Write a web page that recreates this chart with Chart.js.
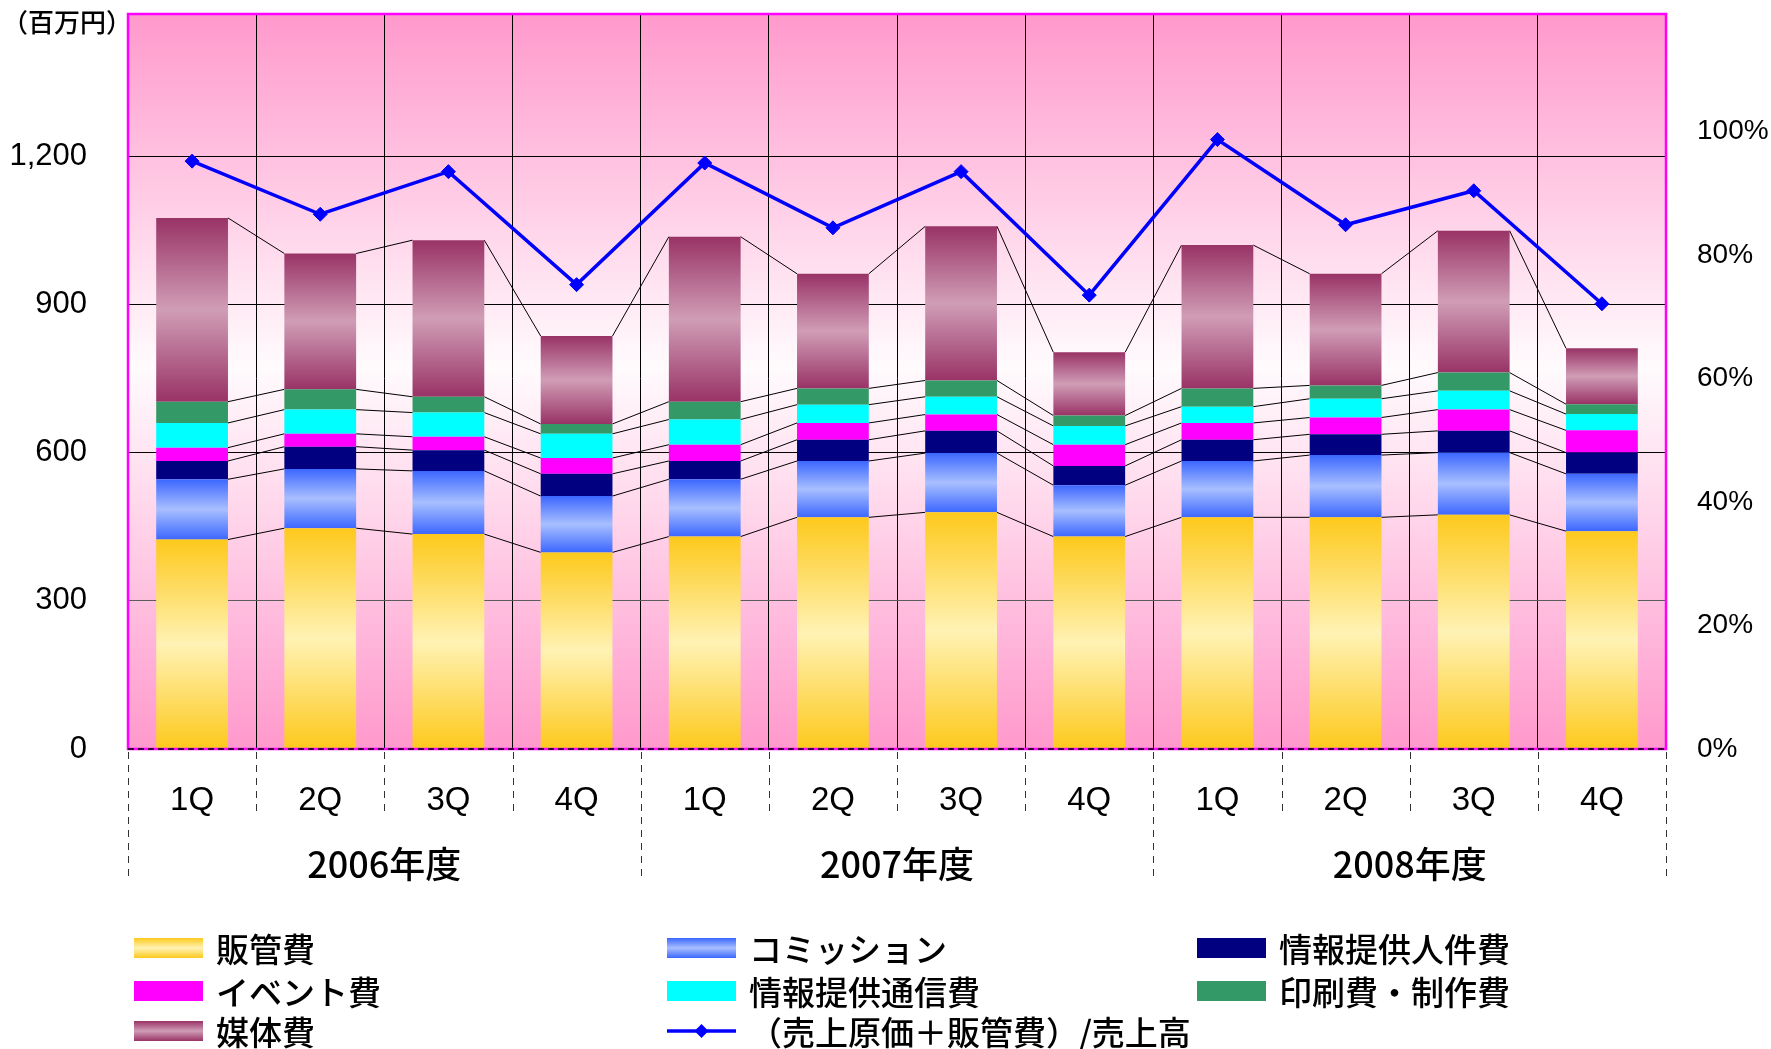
<!DOCTYPE html>
<html>
<head>
<meta charset="utf-8">
<script src="https://cdn.jsdelivr.net/npm/chart.js@4.4.1/dist/chart.umd.min.js"></script>
<style>
  html, body { margin: 0; padding: 0; background: #fff; }
</style>
</head>
<body>
<canvas id="costChart" width="1771" height="1049"></canvas>
<script>
// categories
const quarterLabels = ['1Q', '2Q', '3Q', '4Q', '1Q', '2Q', '3Q', '4Q', '1Q', '2Q', '3Q', '4Q'];
const yearLabels = ['2006年度', '2007年度', '2008年度'];

// cost items (百万円), stacked from the bottom
const sga        = [424, 447, 435, 398, 430, 469, 479, 430, 469, 469, 474, 441];
const commission = [122, 120, 128, 114, 116, 114, 120, 104, 114, 126, 126, 116];
const infoStaff  = [37, 45, 42, 45, 37, 43, 45, 39, 43, 42, 44, 43];
const eventCost  = [27, 26, 27, 32, 33, 34, 33, 43, 34, 34, 43, 45];
const infoComm   = [50, 49, 49, 49, 51, 37, 36, 38, 33, 38, 38, 33];
const printing   = [43, 41, 32, 20, 36, 33, 33, 21, 37, 27, 37, 20];
const media      = [372, 275, 317, 178, 334, 232, 312, 128, 290, 226, 287, 113];

// (売上原価＋販管費)/売上高, percent
const costRatio = [95.2, 86.6, 93.5, 75.2, 94.9, 84.4, 93.5, 73.5, 98.7, 84.9, 90.4, 72.1];

// axes
const yMax = 1500, yStep = 300;
const ratioMax = 120, ratioStep = 20;

const tickFamily = "'Liberation Sans Narrow', 'Liberation Sans', sans-serif";
const cjkFont = "'Noto Sans CJK JP', 'Noto Sans', sans-serif";

// edge / middle colours of the banded bars, plain colour otherwise
const seriesColors = [
    ['#fdc91c', '#fff2b4'],
    ['#3c67ff', '#a8bfff'],
    '#000080',
    '#ff00ff',
    '#00ffff',
    '#339966',
    ['#993366', '#d09db6']
];

// the pink frame sits a little below the top of the value range
const frameInset = 6;

const bandFill = (colors) => {
    if (typeof colors === 'string') return colors;
    return (c) => {
        if (c.type !== 'data') return colors[0];
        const chart = c.chart;
        const y = chart.scales.y;
        const ds = chart.data.datasets;
        let base = 0;
        for (let k = 0; k < c.datasetIndex; k++) base += ds[k].data[c.dataIndex];
        const top = base + ds[c.datasetIndex].data[c.dataIndex];
        const y0 = y.getPixelForValue(top), y1 = y.getPixelForValue(base);
        if (!isFinite(y0) || !isFinite(y1) || y0 === y1) return colors[0];
        const g = chart.ctx.createLinearGradient(0, y0, 0, y1);
        g.addColorStop(0, colors[0]);
        g.addColorStop(0.5, colors[1]);
        g.addColorStop(1, colors[0]);
        return g;
    };
};

const barSet = (label, data, i) => ({
    type: 'bar',
    label: label,
    data: data,
    backgroundColor: bandFill(seriesColors[i]),
    borderWidth: 0,
    barPercentage: 0.56,
    categoryPercentage: 1,
    order: 1
});

// plot background, pink - white - pink
const plotBackground = {
    id: 'plotBackground',
    beforeDraw(chart) {
        const { ctx, chartArea: a } = chart;
        const top = a.top + frameInset;
        const g = ctx.createLinearGradient(0, top, 0, a.bottom);
        g.addColorStop(0, '#ff99cc');
        g.addColorStop(0.48, '#fffbfd');
        g.addColorStop(1, '#ff99cc');
        ctx.save();
        ctx.fillStyle = g;
        ctx.fillRect(a.left, top, a.right - a.left, a.bottom - top);
        ctx.restore();
    }
};

// thin lines joining the tops of each stacked segment
const seriesLines = {
    id: 'seriesLines',
    beforeDatasetsDraw(chart) {
        const { ctx, chartArea: a } = chart;
        ctx.save();
        // hide grid stubs above the frame
        ctx.fillStyle = '#fff';
        ctx.fillRect(a.left - 2, a.top - 2, a.right - a.left + 4, frameInset + 2);
        ctx.strokeStyle = '#000';
        ctx.lineWidth = 1;
        chart.data.datasets.forEach((ds, d) => {
            if (ds.type !== 'bar') return;
            const bars = chart.getDatasetMeta(d).data;
            for (let i = 0; i + 1 < bars.length; i++) {
                const p = bars[i], q = bars[i + 1];
                ctx.beginPath();
                ctx.moveTo(p.x + p.width / 2, p.y);
                ctx.lineTo(q.x - q.width / 2, q.y);
                ctx.stroke();
            }
        });
        ctx.restore();
    }
};

const plotFrame = {
    id: 'plotFrame',
    afterDatasetsDraw(chart) {
        const { ctx, chartArea: a } = chart;
        const top = a.top + frameInset;
        ctx.save();
        ctx.strokeStyle = '#ff00ff';
        ctx.lineWidth = 2.5;
        ctx.strokeRect(a.left, top, a.right - a.left, a.bottom - top);
        ctx.strokeStyle = '#000';
        ctx.lineWidth = 1.5;
        ctx.setLineDash([6, 4]);
        ctx.beginPath();
        ctx.moveTo(a.left, a.bottom);
        ctx.lineTo(a.right, a.bottom);
        ctx.stroke();
        ctx.restore();
    }
};

// dashed dividers between quarter / year labels, unit label and legend
const extras = {
    id: 'extras',
    afterDraw(chart) {
        const { ctx, chartArea: a } = chart;
        const x = chart.scales.x;
        const n = quarterLabels.length;
        const step = (x.right - x.left) / n;
        ctx.save();
        ctx.strokeStyle = '#333';
        ctx.lineWidth = 1;
        ctx.setLineDash([7, 6]);
        for (let i = 0; i <= n; i++) {
            const px = Math.round(x.left + i * step) + 0.5;
            ctx.beginPath();
            ctx.moveTo(px, a.bottom + 3);
            ctx.lineTo(px, a.bottom + (i % 4 === 0 ? 131 : 66));
            ctx.stroke();
        }
        ctx.setLineDash([]);

        ctx.fillStyle = '#000';
        ctx.textBaseline = 'middle';
        ctx.textAlign = 'left';
        ctx.font = '500 26px ' + cjkFont;
        ctx.fillText('（百万円）', 2, 22);

        // legend, three columns
        const colX = [134, 667, 1197];
        const rowY = [948, 991, 1031];
        const sw = 69, sh = 20;
        ctx.font = '500 33px ' + cjkFont;
        chart.data.datasets.forEach((ds, i) => {
            const lx = colX[i % 3], ly = rowY[Math.floor(i / 3)];
            if (ds.type === 'bar') {
                const c = seriesColors[i];
                if (typeof c === 'string') {
                    ctx.fillStyle = c;
                } else {
                    const g = ctx.createLinearGradient(0, ly - sh / 2, 0, ly + sh / 2);
                    g.addColorStop(0, c[0]);
                    g.addColorStop(0.5, c[1]);
                    g.addColorStop(1, c[0]);
                    ctx.fillStyle = g;
                }
                ctx.fillRect(lx, ly - sh / 2, sw, sh);
            } else {
                ctx.strokeStyle = ds.borderColor;
                ctx.lineWidth = 3.5;
                ctx.beginPath();
                ctx.moveTo(lx, ly);
                ctx.lineTo(lx + sw, ly);
                ctx.stroke();
                const cx = lx + sw / 2, r = 7;
                ctx.fillStyle = ds.borderColor;
                ctx.beginPath();
                ctx.moveTo(cx, ly - r);
                ctx.lineTo(cx + r, ly);
                ctx.lineTo(cx, ly + r);
                ctx.lineTo(cx - r, ly);
                ctx.closePath();
                ctx.fill();
            }
            ctx.fillStyle = '#000';
            ctx.fillText(ds.label, lx + 82, ly + 1);
        });
        ctx.restore();
    }
};

const dropTopTick = (scale) => {
    scale.ticks = scale.ticks.filter(t => t.value < scale.max);
};

new Chart(document.getElementById('costChart'), {
    data: {
        labels: quarterLabels,
        datasets: [
            barSet('販管費', sga, 0),
            barSet('コミッション', commission, 1),
            barSet('情報提供人件費', infoStaff, 2),
            barSet('イベント費', eventCost, 3),
            barSet('情報提供通信費', infoComm, 4),
            barSet('印刷費・制作費', printing, 5),
            barSet('媒体費', media, 6),
            {
                type: 'line',
                label: '（売上原価＋販管費）/売上高',
                data: costRatio,
                yAxisID: 'y1',
                borderColor: '#0000ff',
                backgroundColor: '#0000ff',
                borderWidth: 3.5,
                pointStyle: 'rectRot',
                pointRadius: 7,
                pointBackgroundColor: '#0000ff',
                pointBorderColor: '#0000ff',
                pointBorderWidth: 1,
                tension: 0,
                fill: false,
                order: 0
            }
        ]
    },
    options: {
        responsive: false,
        animation: false,
        devicePixelRatio: 1,
        layout: {
            padding: { top: 7, bottom: 155, left: 0, right: 0 }
        },
        plugins: {
            legend: { display: false },
            tooltip: { enabled: false }
        },
        scales: {
            x: {
                stacked: true,
                offset: true,
                grid: { offset: true, color: '#000', lineWidth: 1, drawTicks: false },
                border: { display: false },
                ticks: { font: { family: "'Liberation Sans', sans-serif", size: 33 }, color: '#000', padding: 32, maxRotation: 0 },
                afterFit: (s) => { s.height = 70; }
            },
            x2: {
                type: 'category',
                position: 'bottom',
                weight: 1,
                labels: yearLabels,
                offset: true,
                grid: { display: false },
                border: { display: false },
                ticks: { font: { family: cjkFont, size: 36, weight: '500' }, color: '#000', padding: 16, maxRotation: 0 },
                afterFit: (s) => { s.height = 75; }
            },
            y: {
                stacked: true,
                min: 0,
                max: yMax,
                grid: {
                    drawTicks: false,
                    lineWidth: 1,
                    color: (c) => c.tick.value === 0 ? 'rgba(0,0,0,0)' : (c.tick.value === 300 ? '#5c5c5c' : '#000')
                },
                border: { display: false },
                ticks: {
                    stepSize: yStep,
                    padding: 41,
                    font: { family: tickFamily, size: 31 },
                    color: '#000',
                    callback: (v) => v.toLocaleString('en-US')
                },
                afterBuildTicks: dropTopTick,
                afterFit: (s) => { s.width = 128; s.paddingTop = 0; s.paddingBottom = 0; }
            },
            y1: {
                position: 'right',
                min: 0,
                max: ratioMax,
                grid: { display: false },
                border: { display: false },
                ticks: {
                    stepSize: ratioStep,
                    padding: 23,
                    font: { family: tickFamily, size: 28 },
                    color: '#000',
                    callback: (v) => v + '%'
                },
                afterBuildTicks: dropTopTick,
                afterFit: (s) => { s.width = 105; s.paddingTop = 0; s.paddingBottom = 0; }
            }
        }
    },
    plugins: [plotBackground, seriesLines, plotFrame, extras]
});
</script>
</body>
</html>
